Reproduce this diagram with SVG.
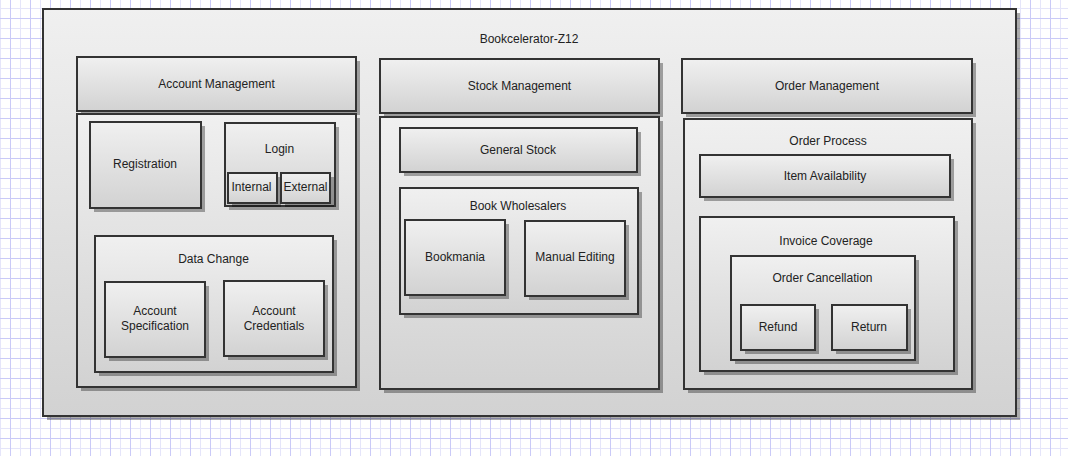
<svg xmlns="http://www.w3.org/2000/svg" width="1068" height="456" viewBox="0 0 1068 456">
  <defs>
    <!-- 10px grid with a stronger line every 20px -->
    <pattern id="grid" x="0" y="8" width="20" height="20" patternUnits="userSpaceOnUse">
      <rect width="20" height="20" fill="#ffffff"/>
      <path d="M0.5 0V20M0 0.5H20" stroke="#e5e5fa" stroke-width="1"/>
      <path d="M10.5 0V20M0 10.5H20" stroke="#cacaf7" stroke-width="1"/>
    </pattern>
    <linearGradient id="fill" x1="0" y1="0" x2="0" y2="1">
      <stop offset="0" stop-color="#f0f0f0"/>
      <stop offset="1" stop-color="#d2d2d2"/>
    </linearGradient>
  </defs>
  <style>
    .box { fill: url(#fill); stroke: #333333; stroke-width: 2; }
    .shadow { fill: #000000; fill-opacity: 0.33; }
    text { font-family: "Liberation Sans", Arial, sans-serif; font-size: 12px; fill: #222222; text-anchor: middle; }
  </style>

  <rect width="1068" height="456" fill="url(#grid)"/>

  <!-- system frame -->
  <g id="bookcelerator">
    <rect class="shadow" x="47" y="13" width="973" height="407"/>
    <rect class="box" x="43" y="9" width="973" height="407"/>
    <text x="529" y="43">Bookcelerator-Z12</text>
  </g>

  <!-- Account Management column -->
  <g id="account-management">
    <rect class="shadow" x="81" y="61" width="279" height="54"/>
    <rect class="box" x="77" y="57" width="279" height="54"/>
    <text x="216.5" y="88">Account Management</text>
  </g>
  <g id="account-management-body">
    <rect class="shadow" x="81" y="118" width="279" height="273"/>
    <rect class="box" x="77" y="114" width="279" height="273"/>
  </g>
  <g id="registration">
    <rect class="shadow" x="94" y="126" width="111" height="86"/>
    <rect class="box" x="90" y="122" width="111" height="86"/>
    <text x="145" y="168">Registration</text>
  </g>
  <g id="login">
    <rect class="shadow" x="229" y="127" width="110" height="83"/>
    <rect class="box" x="225" y="123" width="110" height="83"/>
    <text x="279.5" y="153">Login</text>
  </g>
  <g id="internal">
    <rect class="shadow" x="232" y="177" width="49" height="30"/>
    <rect class="box" x="228" y="173" width="49" height="30"/>
    <text x="251.5" y="191">Internal</text>
  </g>
  <g id="external">
    <rect class="shadow" x="285" y="177" width="49" height="30"/>
    <rect class="box" x="281" y="173" width="49" height="30"/>
    <text x="305.5" y="191">External</text>
  </g>
  <g id="data-change">
    <rect class="shadow" x="99" y="240" width="238" height="136"/>
    <rect class="box" x="95" y="236" width="238" height="136"/>
    <text x="213.5" y="263">Data Change</text>
  </g>
  <g id="account-specification">
    <rect class="shadow" x="109" y="286" width="100" height="75"/>
    <rect class="box" x="105" y="282" width="100" height="75"/>
    <text x="155" y="315">Account</text>
    <text x="155" y="330">Specification</text>
  </g>
  <g id="account-credentials">
    <rect class="shadow" x="228" y="285" width="100" height="75"/>
    <rect class="box" x="224" y="281" width="100" height="75"/>
    <text x="274" y="315">Account</text>
    <text x="274" y="330">Credentials</text>
  </g>

  <!-- Stock Management column -->
  <g id="stock-management">
    <rect class="shadow" x="384" y="63" width="279" height="54"/>
    <rect class="box" x="380" y="59" width="279" height="54"/>
    <text x="519.5" y="90">Stock Management</text>
  </g>
  <g id="stock-management-body">
    <rect class="shadow" x="384" y="121" width="279" height="272"/>
    <rect class="box" x="380" y="117" width="279" height="272"/>
  </g>
  <g id="general-stock">
    <rect class="shadow" x="404" y="132" width="237" height="44"/>
    <rect class="box" x="400" y="128" width="237" height="44"/>
    <text x="518" y="154">General Stock</text>
  </g>
  <g id="book-wholesalers">
    <rect class="shadow" x="404" y="192" width="238" height="126"/>
    <rect class="box" x="400" y="188" width="238" height="126"/>
    <text x="518" y="210">Book Wholesalers</text>
  </g>
  <g id="bookmania">
    <rect class="shadow" x="409" y="224" width="100" height="75"/>
    <rect class="box" x="405" y="220" width="100" height="75"/>
    <text x="455" y="261">Bookmania</text>
  </g>
  <g id="manual-editing">
    <rect class="shadow" x="529" y="225" width="100" height="75"/>
    <rect class="box" x="525" y="221" width="100" height="75"/>
    <text x="575" y="261">Manual Editing</text>
  </g>

  <!-- Order Management column -->
  <g id="order-management">
    <rect class="shadow" x="686" y="63" width="290" height="54"/>
    <rect class="box" x="682" y="59" width="290" height="54"/>
    <text x="827" y="90">Order Management</text>
  </g>
  <g id="order-process">
    <rect class="shadow" x="688" y="123" width="288" height="270"/>
    <rect class="box" x="684" y="119" width="288" height="270"/>
    <text x="828" y="145">Order Process</text>
  </g>
  <g id="item-availability">
    <rect class="shadow" x="704" y="159" width="250" height="42"/>
    <rect class="box" x="700" y="155" width="250" height="42"/>
    <text x="825" y="180">Item Availability</text>
  </g>
  <g id="invoice-coverage">
    <rect class="shadow" x="704" y="221" width="254" height="154"/>
    <rect class="box" x="700" y="217" width="254" height="154"/>
    <text x="826" y="245">Invoice Coverage</text>
  </g>
  <g id="order-cancellation">
    <rect class="shadow" x="735" y="260" width="184" height="104"/>
    <rect class="box" x="731" y="256" width="184" height="104"/>
    <text x="822.5" y="282">Order Cancellation</text>
  </g>
  <g id="refund">
    <rect class="shadow" x="745" y="309" width="74" height="45"/>
    <rect class="box" x="741" y="305" width="74" height="45"/>
    <text x="778" y="331">Refund</text>
  </g>
  <g id="return">
    <rect class="shadow" x="836" y="309" width="75" height="45"/>
    <rect class="box" x="832" y="305" width="75" height="45"/>
    <text x="869" y="331">Return</text>
  </g>
</svg>
